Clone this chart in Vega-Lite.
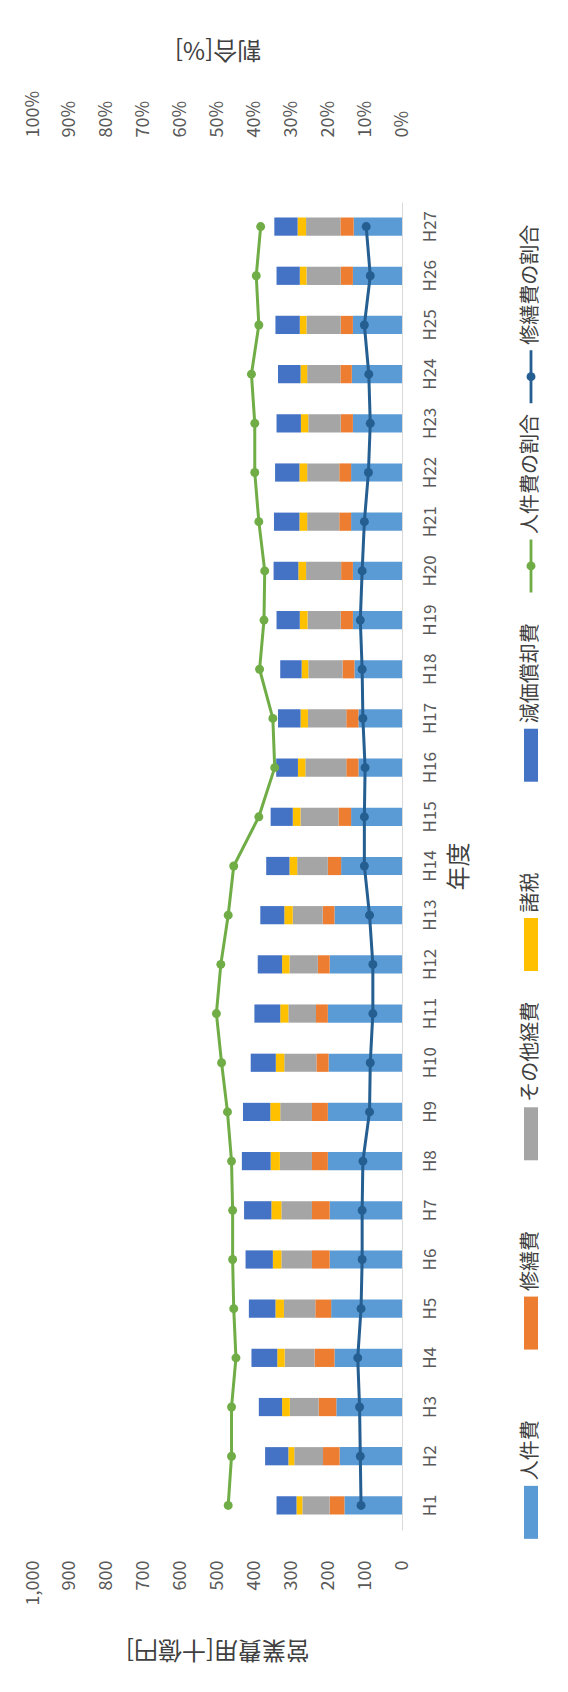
{
  "$schema": "https://vega.github.io/schema/vega-lite/v6.json",
  "padding": {"left": 23, "top": 36, "right": 10, "bottom": 10},
  "bounds": "flush",
  "spacing": 122,
  "config": {
    "view": {"stroke": null},
    "font": "Noto Sans CJK JP",
    "axis": {"labelFont": "Noto Sans CJK JP", "titleFont": "Noto Sans CJK JP", "labelColor": "#595959", "titleColor": "#404040", "titleFontWeight": "normal"}
  },
  "datasets": {
    "main": [
      {"年度": "H1", "人件費": 156, "修繕費": 40, "その他経費": 74, "諸税": 16, "減価償却費": 54, "人件費の割合": 0.471, "修繕費の割合": 0.111},
      {"年度": "H2", "人件費": 169, "修繕費": 45, "その他経費": 78, "諸税": 16, "減価償却費": 63, "人件費の割合": 0.462, "修繕費の割合": 0.113},
      {"年度": "H3", "人件費": 178, "修繕費": 48, "その他経費": 78, "諸税": 21, "減価償却費": 63, "人件費の割合": 0.462, "修繕費の割合": 0.115},
      {"年度": "H4", "人件費": 183, "修繕費": 54, "その他経費": 81, "諸税": 20, "減価償却費": 70, "人件費の割合": 0.450, "修繕費の割合": 0.120},
      {"年度": "H5", "人件費": 192, "修繕費": 43, "その他経費": 85, "諸税": 23, "減価償却費": 72, "人件費の割合": 0.456, "修繕費の割合": 0.111},
      {"年度": "H6", "人件費": 196, "修繕費": 48, "その他経費": 83, "諸税": 23, "減価償却費": 74, "人件費の割合": 0.459, "修繕費の割合": 0.108},
      {"年度": "H7", "人件費": 196, "修繕費": 48, "その他経費": 83, "諸税": 27, "減価償却費": 74, "人件費の割合": 0.459, "修繕費の割合": 0.108},
      {"年度": "H8", "人件費": 201, "修繕費": 43, "その他経費": 87, "諸税": 25, "減価償却費": 78, "人件費の割合": 0.462, "修繕費の割合": 0.106},
      {"年度": "H9", "人件費": 201, "修繕費": 43, "その他経費": 86, "諸税": 27, "減価償却費": 74, "人件費の割合": 0.473, "修繕費の割合": 0.088},
      {"年度": "H10", "人件費": 199, "修繕費": 33, "その他経費": 87, "諸税": 23, "減価償却費": 68, "人件費の割合": 0.489, "修繕費の割合": 0.086},
      {"年度": "H11", "人件費": 201, "修繕費": 32, "その他経費": 75, "諸税": 22, "減価償却費": 70, "人件費の割合": 0.503, "修繕費の割合": 0.079},
      {"年度": "H12", "人件費": 196, "修繕費": 32, "その他経費": 77, "諸税": 20, "減価償却費": 66, "人件費の割合": 0.491, "修繕費の割合": 0.079},
      {"年度": "H13", "人件費": 183, "修繕費": 32, "その他経費": 81, "諸税": 23, "減価償却費": 65, "人件費の割合": 0.471, "修繕費の割合": 0.088},
      {"年度": "H14", "人件費": 165, "修繕費": 36, "その他経費": 83, "諸税": 21, "減価償却費": 63, "人件費の割合": 0.456, "修繕費の割合": 0.102},
      {"年度": "H15", "人件費": 138, "修繕費": 34, "その他経費": 103, "諸税": 21, "減価償却費": 60, "人件費の割合": 0.388, "修繕費の割合": 0.102},
      {"年度": "H16", "人件費": 118, "修繕費": 33, "その他経費": 111, "諸税": 20, "減価償却費": 59, "人件費の割合": 0.345, "修繕費の割合": 0.100},
      {"年度": "H17", "人件費": 118, "修繕費": 33, "その他経費": 104, "諸税": 20, "減価償却費": 61, "人件費の割合": 0.350, "修繕費の割合": 0.106},
      {"年度": "H18", "人件費": 129, "修繕費": 32, "その他経費": 93, "諸税": 18, "減価償却費": 58, "人件費の割合": 0.386, "修繕費の割合": 0.108},
      {"年度": "H19", "人件費": 133, "修繕費": 33, "その他経費": 90, "諸税": 21, "減価償却費": 63, "人件費の割合": 0.374, "修繕費の割合": 0.113},
      {"年度": "H20", "人件費": 133, "修繕費": 32, "その他経費": 95, "諸税": 21, "減価償却費": 67, "人件費の割合": 0.372, "修繕費の割合": 0.108},
      {"年度": "H21", "人件費": 138, "修繕費": 32, "その他経費": 87, "諸税": 21, "減価償却費": 69, "人件費の割合": 0.388, "修繕費の割合": 0.102},
      {"年度": "H22", "人件費": 138, "修繕費": 32, "その他経費": 87, "諸税": 21, "減価償却費": 66, "人件費の割合": 0.399, "修繕費の割合": 0.091},
      {"年度": "H23", "人件費": 133, "修繕費": 33, "その他経費": 88, "諸税": 20, "減価償却費": 66, "人件費の割合": 0.399, "修繕費の割合": 0.086},
      {"年度": "H24", "人件費": 136, "修繕費": 31, "その他経費": 90, "諸税": 18, "減価償却費": 61, "人件費の割合": 0.408, "修繕費の割合": 0.090},
      {"年度": "H25", "人件費": 133, "修繕費": 33, "その他経費": 93, "諸税": 18, "減価償却費": 66, "人件費の割合": 0.388, "修繕費の割合": 0.102},
      {"年度": "H26", "人件費": 133, "修繕費": 33, "その他経費": 93, "諸税": 18, "減価償却費": 63, "人件費の割合": 0.395, "修繕費の割合": 0.086},
      {"年度": "H27", "人件費": 131, "修繕費": 36, "その他経費": 93, "諸税": 23, "減価償却費": 63, "人件費の割合": 0.383, "修繕費の割合": 0.097}
    ]
  },
  "hconcat": [
    {
      "width": 369,
      "height": 1328,
      "data": {"name": "main"},
      "transform": [
        {"calculate": "indexof(['H1','H2','H3','H4','H5','H6','H7','H8','H9','H10','H11','H12','H13','H14','H15','H16','H17','H18','H19','H20','H21','H22','H23','H24','H25','H26','H27'], datum['年度'])", "as": "年番"}
      ],
      "resolve": {"scale": {"x": "independent"}, "axis": {"x": "independent"}},
      "layer": [
        {
          "transform": [
            {"fold": ["人件費", "修繕費", "その他経費", "諸税", "減価償却費"], "as": ["項目", "金額"]},
            {"calculate": "indexof(['人件費','修繕費','その他経費','諸税','減価償却費'], datum['項目'])", "as": "順"}
          ],
          "mark": {"type": "bar"},
          "encoding": {
            "y": {
              "field": "年度", "type": "ordinal",
              "sort": ["H1","H2","H3","H4","H5","H6","H7","H8","H9","H10","H11","H12","H13","H14","H15","H16","H17","H18","H19","H20","H21","H22","H23","H24","H25","H26","H27"],
              "scale": {"reverse": true, "paddingInner": 0.63, "paddingOuter": 0.315},
              "axis": {"orient": "right", "title": "年度", "titleAngle": 270, "titleBaseline": "top", "titleFontSize": 24, "titlePadding": 9, "labelAngle": 270, "labelAlign": "center", "labelBaseline": "top", "labelFontSize": 17, "labelPadding": 20, "ticks": false, "grid": false, "domainColor": "#D9D9D9", "labelOverlap": false}
            },
            "x": {
              "field": "金額", "type": "quantitative", "stack": "zero",
              "scale": {"domain": [0, 1000], "reverse": true, "nice": false},
              "axis": {"orient": "bottom", "values": [0,100,200,300,400,500,600,700,800,900,1000], "format": ",d", "labelAngle": 270, "labelAlign": "right", "labelBaseline": "middle", "labelFontSize": 18, "labelPadding": 30, "labelFlush": false, "labelOverlap": false, "domain": false, "ticks": false, "grid": false, "title": "営業費用[十億円]", "titleAngle": 180, "titleBaseline": "bottom", "titleFontSize": 24, "titlePadding": 32}
            },
            "color": {
              "field": "項目", "type": "nominal",
              "scale": {"domain": ["人件費","修繕費","その他経費","諸税","減価償却費","人件費の割合","修繕費の割合"], "range": ["#5B9BD5","#ED7D31","#A5A5A5","#FFC000","#4472C4","#70AD47","#255E91"]},
              "legend": null
            },
            "order": {"field": "順", "type": "quantitative"}
          }
        },
        {
          "transform": [
            {"fold": ["人件費の割合", "修繕費の割合"], "as": ["項目", "割合"]}
          ],
          "mark": {"type": "line", "strokeWidth": 3, "point": {"filled": true, "size": 80}},
          "encoding": {
            "y": {
              "field": "年度", "type": "ordinal",
              "sort": ["H1","H2","H3","H4","H5","H6","H7","H8","H9","H10","H11","H12","H13","H14","H15","H16","H17","H18","H19","H20","H21","H22","H23","H24","H25","H26","H27"]
            },
            "x": {
              "field": "割合", "type": "quantitative",
              "scale": {"domain": [0, 1], "reverse": true, "nice": false},
              "axis": {"orient": "top", "values": [0,0.1,0.2,0.3,0.4,0.5,0.6,0.7,0.8,0.9,1], "format": ".0%", "labelAngle": 270, "labelAlign": "left", "labelBaseline": "middle", "labelFontSize": 18, "labelPadding": 65, "labelFlush": false, "labelOverlap": false, "domain": false, "ticks": false, "grid": false, "title": "割合[%]", "titleAngle": 180, "titleBaseline": "top", "titleFontSize": 24, "titlePadding": 30}
            },
            "color": {"field": "項目", "type": "nominal", "legend": null},
            "order": {"field": "年番", "type": "quantitative"}
          }
        }
      ]
    },
    {
      "width": 14,
      "height": 1328,
      "data": {"values": [
        {"凡例": "修繕費の割合"}, {"凡例": "人件費の割合"}, {"凡例": "減価償却費"}, {"凡例": "諸税"}, {"凡例": "その他経費"}, {"凡例": "修繕費"}, {"凡例": "人件費"}
      ]},
      "encoding": {
        "y": {"field": "凡例", "type": "nominal", "axis": null,
          "scale": {"type": "band", "domain": ["修繕費の割合","人件費の割合","減価償却費","諸税","その他経費","修繕費","人件費"], "range": [80, 1405], "paddingInner": 0.72, "paddingOuter": 0.36}}
      },
      "layer": [
        {
          "transform": [{"filter": {"field": "凡例", "oneOf": ["人件費","修繕費","その他経費","諸税","減価償却費"]}}],
          "mark": {"type": "bar"},
          "encoding": {
            "color": {"field": "凡例", "type": "nominal", "legend": null,
              "scale": {"domain": ["人件費","修繕費","その他経費","諸税","減価償却費","人件費の割合","修繕費の割合"], "range": ["#5B9BD5","#ED7D31","#A5A5A5","#FFC000","#4472C4","#70AD47","#255E91"]}}
          }
        },
        {
          "transform": [{"filter": {"field": "凡例", "oneOf": ["人件費の割合","修繕費の割合"]}}],
          "mark": {"type": "bar"},
          "encoding": {
            "x": {"datum": 0.4, "type": "quantitative", "scale": {"domain": [0, 1]}, "axis": null},
            "x2": {"datum": 0.6},
            "color": {"field": "凡例", "type": "nominal", "legend": null}
          }
        },
        {
          "transform": [{"filter": {"field": "凡例", "oneOf": ["人件費の割合","修繕費の割合"]}}],
          "mark": {"type": "point", "filled": true, "size": 80, "opacity": 1},
          "encoding": {
            "color": {"field": "凡例", "type": "nominal", "legend": null}
          }
        },
        {
          "mark": {"type": "text", "angle": 270, "align": "left", "baseline": "middle", "dx": 32, "fontSize": 20, "font": "Noto Sans CJK JP", "color": "#404040"},
          "encoding": {"text": {"field": "凡例"}}
        }
      ]
    }
  ]
}
